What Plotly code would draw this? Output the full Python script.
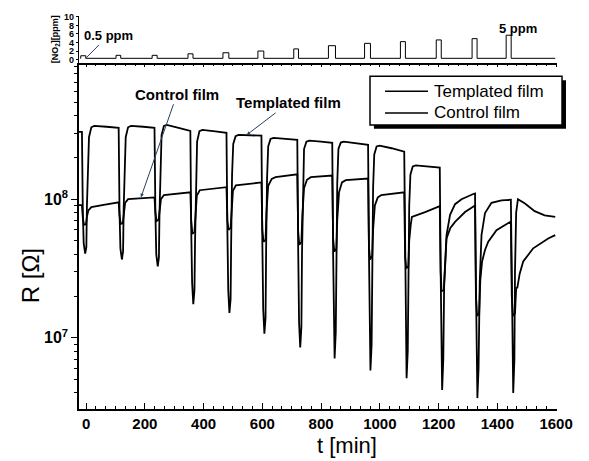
import plotly.graph_objects as go

# ---------------- data ----------------
# Templated film: time [min], resistance [Ohm]
t_templated = [
    -24, -14,
    -11, -8, -3, 1, 3, 6, 10, 18, 28, 70, 111,
    114, 117, 122, 126, 128, 131, 135, 143, 153, 195, 233,
    236, 239, 244, 248, 250, 253, 257, 265, 275, 315, 355,
    358, 361, 365, 369, 371, 374, 378, 386, 396, 440, 478,
    481, 484, 488, 492, 494, 497, 501, 509, 519, 560, 597,
    600, 603, 607, 611, 613, 616, 620, 628, 638, 680, 719,
    722, 725, 729, 733, 735, 738, 742, 750, 760, 800, 838,
    841, 843, 846, 850, 852, 855, 859, 867, 877, 920, 960,
    963, 965, 968, 972, 974, 977, 981, 989, 999, 1040, 1083,
    1086, 1088, 1091, 1095, 1097, 1100, 1104, 1112, 1122, 1160, 1204,
    1207, 1209, 1212, 1216, 1219, 1227, 1239, 1256, 1278, 1318, 1324,
    1327, 1329, 1332, 1336, 1340, 1346, 1358, 1380, 1414, 1446,
    1449, 1451, 1454, 1458, 1460, 1464, 1470, 1494, 1527, 1561, 1597,
]
R_templated = [
    3.06e8, 3.06e8,
    8.0e7, 4.8e7, 4.05e7, 4.5e7, 9.0e7, 1.8e8, 2.8e8, 3.3e8, 3.38e8, 3.33e8, 3.27e8,
    8.0e7, 4.4e7, 3.67e7, 4.2e7, 8.5e7, 1.8e8, 2.8e8, 3.3e8, 3.38e8, 3.33e8, 3.27e8,
    8.0e7, 4.0e7, 3.27e7, 3.8e7, 8.0e7, 1.8e8, 2.9e8, 3.38e8, 3.43e8, 3.27e8, 3.11e8,
    6.0e7, 2.5e7, 1.75e7, 2.2e7, 5.0e7, 1.5e8, 2.6e8, 3.1e8, 3.16e8, 3.08e8, 3.01e8,
    6.0e7, 2.2e7, 1.51e7, 1.9e7, 5.0e7, 1.5e8, 2.5e8, 2.85e8, 2.91e8, 2.89e8, 2.87e8,
    5.0e7, 1.6e7, 1.07e7, 1.4e7, 4.5e7, 1.4e8, 2.4e8, 2.72e8, 2.77e8, 2.72e8, 2.68e8,
    4.5e7, 1.3e7, 8.5e6, 1.2e7, 4.0e7, 1.3e8, 2.3e8, 2.6e8, 2.64e8, 2.6e8, 2.55e8,
    4.0e7, 1.1e7, 7.1e6, 1.1e7, 4.0e7, 1.3e8, 2.3e8, 2.56e8, 2.6e8, 2.53e8, 2.47e8,
    4.0e7, 9.0e6, 5.8e6, 9.0e6, 3.5e7, 1.2e8, 2.1e8, 2.4e8, 2.43e8, 2.33e8, 2.2e8,
    3.5e7, 8.0e6, 5.1e6, 8.0e6, 3.0e7, 9.0e7, 1.5e8, 1.72e8, 1.75e8, 1.72e8, 1.69e8,
    3.0e7, 6.0e6, 4.2e6, 7.0e6, 2.5e7, 5.5e7, 7.7e7, 9.2e7, 1.0e8, 1.09e8, 1.1e8,
    2.5e7, 5.5e6, 3.67e6, 6.0e6, 2.5e7, 5.5e7, 7.95e7, 9.4e7, 9.8e7, 9.9e7,
    2.5e7, 6.0e6, 4.0e6, 7.0e6, 3.0e7, 8.0e7, 1.0e8, 9.3e7, 8.2e7, 7.65e7, 7.44e7,
]

# Control film: time [min], resistance [Ohm]
t_control = [
    -24, -14,
    -11, -7, 0, 3, 8, 18, 60, 111,
    114, 118, 125, 128, 133, 143, 190, 233,
    236, 240, 247, 250, 255, 265, 310, 355,
    358, 362, 369, 372, 377, 387, 430, 478,
    481, 485, 492, 495, 500, 510, 555, 597,
    600, 604, 611, 614, 620, 632, 645, 680, 719,
    722, 726, 733, 736, 742, 752, 765, 800, 838,
    841, 845, 852, 855, 861, 871, 884, 920, 960,
    963, 967, 974, 977, 983, 993, 1005, 1045, 1083,
    1086, 1090, 1097, 1100, 1105, 1109, 1154, 1204,
    1207, 1210, 1218, 1222, 1227, 1240, 1256, 1290, 1324,
    1327, 1331, 1338, 1342, 1348, 1358, 1369, 1397, 1446,
    1449, 1453, 1460, 1464, 1468, 1476, 1488, 1522, 1573, 1597,
]
R_control = [
    9.06e7, 9.06e7,
    7.4e7, 6.52e7, 6.6e7, 7.5e7, 8.3e7, 8.77e7, 9.1e7, 9.5e7,
    7.6e7, 6.63e7, 6.7e7, 8.0e7, 9.4e7, 1.0e8, 1.01e8, 1.03e8,
    8.0e7, 6.96e7, 7.1e7, 8.5e7, 1.0e8, 1.07e8, 1.09e8, 1.12e8,
    7.0e7, 5.62e7, 5.8e7, 8.0e7, 1.06e8, 1.16e8, 1.19e8, 1.22e8,
    7.0e7, 6.0e7, 6.2e7, 8.5e7, 1.15e8, 1.26e8, 1.29e8, 1.32e8,
    6.0e7, 4.93e7, 5.1e7, 8.0e7, 1.25e8, 1.4e8, 1.44e8, 1.47e8, 1.51e8,
    5.8e7, 4.69e7, 4.9e7, 7.5e7, 1.2e8, 1.38e8, 1.44e8, 1.46e8, 1.48e8,
    5.2e7, 4.18e7, 4.4e7, 7.0e7, 1.12e8, 1.32e8, 1.37e8, 1.39e8, 1.41e8,
    4.5e7, 3.67e7, 3.9e7, 6.0e7, 9.0e7, 1.03e8, 1.07e8, 1.1e8, 1.12e8,
    3.8e7, 3.16e7, 3.3e7, 5.0e7, 6.5e7, 7.44e7, 8.07e7, 8.9e7,
    3.0e7, 2.17e7, 2.2e7, 3.5e7, 5.2e7, 6.2e7, 6.85e7, 8.07e7, 9.0e7,
    2.0e7, 1.44e7, 1.5e7, 2.6e7, 3.55e7, 4.3e7, 4.93e7, 5.98e7, 6.9e7,
    2.0e7, 1.44e7, 1.5e7, 2.28e7, 2.3e7, 2.9e7, 3.55e7, 4.42e7, 5.2e7, 5.5e7,
]

# NO2 pulses (top panel): start / end time [min] and displayed level [ppm]
pulse_start = [-18, 102, 225, 347, 466, 585, 707, 825, 948, 1070, 1192, 1314, 1430]
pulse_end = [-1, 118, 242, 364, 486, 605, 723, 849, 968, 1087, 1209, 1331, 1447]
pulse_level = [0.9, 1.0, 1.0, 1.35, 1.6, 2.0, 2.5, 3.25, 3.8, 4.2, 4.6, 4.9, 5.7]
no2_baseline = 0.3
no2_t_first, no2_t_last = -20, 1597

series_names = ["Templated film", "Control film"]
x_tick_vals = [0, 200, 400, 600, 800, 1000, 1200, 1400, 1600]
y_tick_vals = [1e7, 1e8]
y_tick_text = ["10<sup>7</sup>", "10<sup>8</sup>"]
no2_tick_vals = [0, 2, 4, 6, 8, 10]

# --------- build step series for NO2 trace from the lists ---------
t_no2 = [no2_t_first]
c_no2 = [no2_baseline]
for s, e, lv in zip(pulse_start, pulse_end, pulse_level):
    t_no2 += [s, s, e, e]
    c_no2 += [no2_baseline, lv, lv, no2_baseline]
t_no2.append(no2_t_last)
c_no2.append(no2_baseline)

FONT = "Liberation Sans, Arial, Helvetica, sans-serif"

fig = go.Figure()
fig.add_trace(go.Scatter(x=t_templated, y=R_templated, mode="lines",
                         name=series_names[0], showlegend=False,
                         line=dict(color="black", width=1.8),
                         xaxis="x", yaxis="y"))
fig.add_trace(go.Scatter(x=t_control, y=R_control, mode="lines",
                         name=series_names[1], showlegend=False,
                         line=dict(color="black", width=1.8),
                         xaxis="x", yaxis="y"))
fig.add_trace(go.Scatter(x=t_no2, y=c_no2, mode="lines", showlegend=False,
                         line=dict(color="black", width=1),
                         xaxis="x2", yaxis="y2"))

main_top = 0.8772
fig.update_layout(
    width=589, height=461,
    margin=dict(l=79, r=32, t=10, b=52),
    paper_bgcolor="white", plot_bgcolor="white",
    font=dict(family=FONT, color="black"),
    showlegend=False,
    xaxis=dict(domain=[0, 1], range=[-24, 1603], anchor="y",
               showline=True, linecolor="black", linewidth=1.5,
               ticks="inside", ticklen=6, tickwidth=1.2, tickcolor="black",
               tickvals=x_tick_vals,
               minor=dict(ticks="inside", ticklen=3, dtick=200 / 6, tick0=0,
                          tickcolor="black", tickwidth=1),
               tickfont=dict(size=15, family=FONT, color="black", weight="bold"),
               showgrid=False, zeroline=False),
    yaxis=dict(domain=[0, main_top], type="log", range=[6.486, 8.986],
               anchor="x",
               showline=True, linecolor="black", linewidth=1.5,
               ticks="outside", ticklen=6, tickwidth=1.2, tickcolor="black",
               tickvals=y_tick_vals, ticktext=y_tick_text,
               minor=dict(ticks="outside", ticklen=3, dtick="D1",
                          tickcolor="black", tickwidth=1),
               tickfont=dict(size=16, family=FONT, color="black", weight="bold"),
               showgrid=False, zeroline=False),
    xaxis2=dict(domain=[0, 1], range=[-24, 1603], anchor="y2",
                showline=True, linecolor="black", linewidth=1.5,
                ticks="outside", ticklen=3, tickwidth=1, tickcolor="black",
                tickvals=x_tick_vals, showticklabels=False,
                minor=dict(ticks="outside", ticklen=2, dtick=200 / 6, tick0=0,
                           tickcolor="black"),
                showgrid=False, zeroline=False),
    yaxis2=dict(domain=[main_top, 0.995], range=[-0.68, 10.2], anchor="x2",
                showline=True, linecolor="black", linewidth=1.2,
                ticks="outside", ticklen=2, tickwidth=1, tickcolor="black",
                tickvals=no2_tick_vals,
                tickfont=dict(size=9, family=FONT, color="black", weight="bold"),
                showgrid=False, zeroline=False,
                title=dict(text="[NO<sub>2</sub>][ppm]",
                           font=dict(size=9, family=FONT, weight="bold"),
                           standoff=3)),
)

# axis titles
fig.add_annotation(x=0.561, y=-0.0935, xref="paper", yref="paper",
                   text="t [min]", showarrow=False,
                   xanchor="center", yanchor="middle",
                   font=dict(size=22, family=FONT, color="black"))
fig.add_annotation(x=-0.1025, y=0.336, xref="paper", yref="paper",
                   text="R [Ω]", showarrow=False, textangle=-90,
                   xanchor="center", yanchor="middle",
                   font=dict(size=24, family=FONT, color="black"))

# legend box with shadow
fig.add_shape(type="rect", xref="paper", yref="paper",
              x0=0.617, x1=1.0188, y0=0.7093, y1=0.8321,
              fillcolor="black", line=dict(width=0), layer="above")
fig.add_shape(type="rect", xref="paper", yref="paper",
              x0=0.6088, x1=1.0105, y0=0.7193, y1=0.8421,
              fillcolor="white", line=dict(color="black", width=1.5),
              layer="above")
legend_rows_y = [0.8045, 0.7494]
for name, ly in zip(series_names, legend_rows_y):
    fig.add_shape(type="line", xref="paper", yref="paper",
                  x0=0.6402, x1=0.7301, y0=ly, y1=ly,
                  line=dict(color="black", width=1.5), layer="above")
    fig.add_annotation(x=0.7385, y=ly, xref="paper", yref="paper",
                       text=name, showarrow=False,
                       xanchor="left", yanchor="middle",
                       font=dict(size=17, family=FONT, color="black"))

# callouts
fig.add_annotation(x=187, y=8.014, xref="x", yref="y",
                   text="<b>Control film</b>", showarrow=True,
                   ax=36, ay=-103, arrowhead=2, arrowsize=0.7, arrowwidth=1,
                   font=dict(size=15, family=FONT, color="black"))
fig.add_annotation(x=547, y=8.464, xref="x", yref="y",
                   text="<b>Templated film</b>", showarrow=True,
                   ax=42, ay=-32, arrowhead=2, arrowsize=0.7, arrowwidth=1,
                   font=dict(size=15, family=FONT, color="black"))
fig.add_annotation(x=0, y=0.4, xref="x2", yref="y2",
                   text="<b>0.5 ppm</b>", showarrow=True,
                   ax=22, ay=-22, arrowhead=0, arrowwidth=1,
                   font=dict(size=13, family=FONT, color="black"))
fig.add_annotation(x=1471, y=7.2, xref="x2", yref="y2",
                   text="<b>5 ppm</b>", showarrow=False,
                   font=dict(size=13, family=FONT, color="black"))

fig.write_html("out.html")
